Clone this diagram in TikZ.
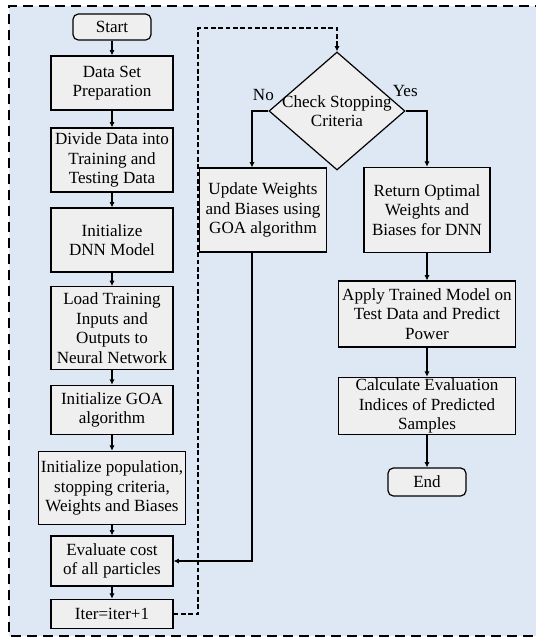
\documentclass[tikz,border=0pt]{standalone}
\usepackage{fontspec}
\setmainfont{Liberation Serif}
\usetikzlibrary{arrows.meta,shapes.geometric}
\definecolor{panelblue}{HTML}{DEE8F4}
\definecolor{boxgray}{HTML}{EFEFEF}

\begin{document}
\begin{tikzpicture}[
  x=0.75pt, y=-0.75pt,
  font=\fontsize{12.8}{14.6}\selectfont,
  box/.style={draw, line width=0.9pt, fill=boxgray, align=center, inner sep=1pt},
  procbox/.style={box, minimum width=91.5pt},
  termbox/.style={box, rounded corners=4pt, minimum width=58.5pt},
  decision/.style={draw, line width=0.9pt, fill=boxgray, diamond, inner sep=0pt,
    minimum width=102pt, minimum height=88.5pt},
  arr/.style={-{Latex[length=4pt,width=4pt]}, line width=0.9pt},
  looparr/.style={-{Latex[length=4pt,width=4pt]}, line width=0.9pt, dash pattern=on 3.5pt off 2pt}
]
\useasboundingbox (0,0) rectangle (536,640);
% panel
\fill[panelblue] (9,6) rectangle (536,636);
\draw[line width=1pt, dash pattern=on 7.5pt off 4.5pt] (545,6) -- (9,6) -- (9,636) -- (545,636);

% left column
\node[termbox, minimum height=19.5pt] (start) at (112,27) {Start};
\node[procbox, minimum height=40.5pt] (prep) at (112,83) {Data Set\\Preparation};
\node[procbox, minimum height=48pt] (divide) at (112,160) {Divide Data into\\Training and\\Testing Data};
\node[procbox, minimum height=48pt] (initdnn) at (112,240) {Initialize\\DNN Model};
\node[procbox, minimum height=62pt] (load) at (112,328) {Load Training\\Inputs and\\Outputs to\\Neural Network};
\node[procbox, minimum height=37pt] (initgoa) at (112,410) {Initialize GOA\\algorithm};
\node[box, minimum width=110pt, minimum height=55pt] (initpop) at (112,488) {Initialize population,\\stopping criteria,\\Weights and Biases};
\node[procbox, minimum height=37.5pt] (evalcost) at (112,561) {Evaluate cost\\of all particles};
\node[procbox, minimum height=22pt] (iter) at (112,614) {Iter=iter+1};

% right part
\node[decision, label={[align=center]center:Check Stopping\\Criteria}] (check) at (337,111) {};
\node[box, minimum width=95pt, minimum height=63pt] (update) at (263,210) {Update Weights\\and Biases using\\GOA algorithm};
\node[box, minimum width=94.5pt, minimum height=64pt] (optimal) at (427,210) {Return Optimal\\Weights and\\Biases for DNN};
\node[box, minimum width=133pt, minimum height=49.5pt] (apply) at (427,314) {Apply Trained Model on\\Test Data and Predict\\Power};
\node[box, minimum width=133pt, minimum height=43pt] (calc) at (427,406) {Calculate Evaluation\\Indices of Predicted\\Samples};
\node[termbox, minimum height=21pt] (finish) at (427,482) {End};

\coordinate (loopcorner) at (198,28);
\coordinate (nox) at (252,0);

\draw[arr] (start) -- (prep);
\draw[arr] (prep) -- (divide);
\draw[arr] (divide) -- (initdnn);
\draw[arr] (initdnn) -- (load);
\draw[arr] (load) -- (initgoa);
\draw[arr] (initgoa) -- (initpop);
\draw[arr] (initpop) -- (evalcost);
\draw[arr] (evalcost) -- (iter);
\draw[looparr] (iter.east) -| (loopcorner) -| (check.north);
\draw[arr] (check.west) node[anchor=south east, inner sep=0pt, xshift=4.5pt, yshift=7.5pt] {No}
  -| (update.north -| nox);
\draw[arr] (check.east) node[anchor=south west, inner sep=0pt, xshift=-10pt, yshift=10pt] {Yes}
  -| (optimal.north);
\draw[arr] (update.south -| nox) |- (evalcost.east);
\draw[arr] (optimal) -- (apply);
\draw[arr] (apply) -- (calc);
\draw[arr] (calc) -- (finish);
\end{tikzpicture}
\end{document}
